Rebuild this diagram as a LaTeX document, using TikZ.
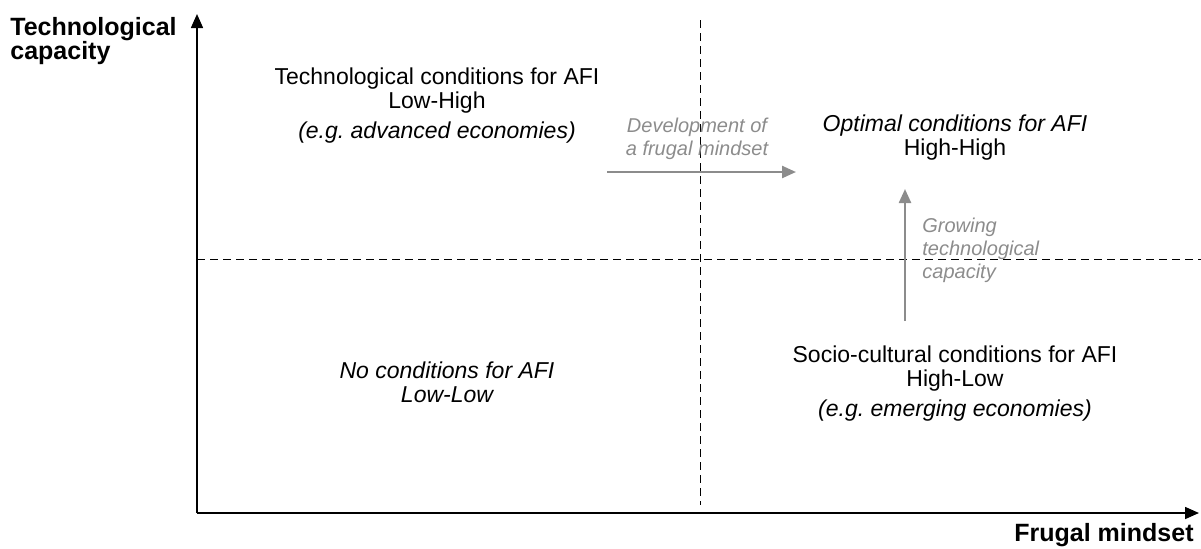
\documentclass[tikz,border=0pt]{standalone}
\usepackage{fontspec}
\setmainfont{Liberation Sans}
\usetikzlibrary{arrows.meta}
\definecolor{softgray}{HTML}{8C8C8C}
\frenchspacing
\begin{document}
\begin{tikzpicture}[x=0.5pt,y=-0.5pt,
  axis/.style={line width=0.8pt,-{Triangle[length=7pt,width=6pt]}},
  divider/.style={dashed,line width=0.4pt,dash pattern=on 4pt off 2.5pt},
  trend/.style={softgray,line width=1.2pt,-{Triangle[length=7pt,width=6pt]}},
  quad/.style={align=center,font=\fontsize{11.5}{12}\selectfont,inner sep=0pt},
  note/.style={softgray,font=\fontsize{10}{11.5}\selectfont\itshape,inner sep=0pt},
  axlabel/.style={font=\fontsize{12.5}{12}\selectfont\bfseries,inner sep=0pt}]
\useasboundingbox (0,0) rectangle (1201,548);
% axes
\coordinate (o) at (197,513);
\coordinate (ytop) at (197,14);
\coordinate (xend) at (1199,513);
\draw[axis] (o) -- (ytop);
\draw[axis] (o) -- (xend);
% quadrant dividers
\coordinate (vtop) at (700,20);
\coordinate (vbot) at (700,505);
\coordinate (hl) at (197,259);
\coordinate (hr) at (1201,259);
\draw[divider] (vtop) -- (vbot);
\draw[divider] (hl) -- (hr);
% axis labels
\node[axlabel,align=left,anchor=west] (ylab) at (10,41) {Technological\\capacity};
\node[axlabel,anchor=east] (xlab) at (1194,535) {Frugal mindset};
% quadrant texts
\node[quad] (tl) at (437,106) {Technological conditions for AFI\\Low-High\\[3pt]\itshape (e.g. advanced economies)};
\node[quad] (tr) at (955,138) {\itshape Optimal conditions for AFI\\High-High};
\node[quad] (br) at (955,384) {Socio-cultural conditions for AFI\\High-Low\\[3pt]\itshape (e.g. emerging economies)};
\node[quad,font=\fontsize{11.5}{12}\selectfont\itshape] (bl) at (447,382) {No conditions for AFI\\Low-Low};
% development arrows
\coordinate (ha) at (607,172);
\coordinate (hb) at (796,172);
\draw[trend] (ha) -- (hb);
\node[note,align=center] (hn) at (697,139) {Development of\\a frugal mindset};
\coordinate (va) at (905,321);
\coordinate (vb) at (905,189);
\draw[trend] (va) -- (vb);
\node[note,align=left,anchor=west] (vn) at (922,250) {Growing\\technological\\capacity};
\end{tikzpicture}
\end{document}
